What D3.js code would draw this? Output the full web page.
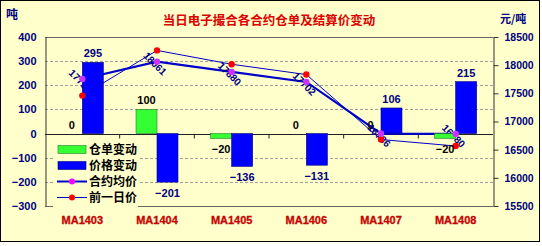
<!DOCTYPE html>
<html>
<head>
<meta charset="utf-8">
<script src="https://cdn.jsdelivr.net/npm/d3@7"></script>
<style>
  body { margin: 0; background: #fff; }
  text { font-family: "Liberation Sans", Arial, sans-serif; font-weight: bold; }
  .cjk { font-family: "Noto Sans CJK SC", sans-serif; font-weight: bold; }
</style>
</head>
<body>
<div id="chart"></div>
<script>
// data
var contracts = ["MA1403", "MA1404", "MA1405", "MA1406", "MA1407", "MA1408"];
var warrantChange = [0, 100, -20, 0, 0, -20];          // 仓单变动 (吨)
var priceChange = [295, -201, -136, -131, 106, 215];    // 价格变动
var avgPrice = [17755, 18061, 17880, 17702, 16786, 16780];  // 合约均价
var prevPrice = [17460, 18262, 18016, 17833, 16680, 16565]; // 前一日价
var leftTicks = [400, 300, 200, 100, 0, -100, -200, -300];
var rightTicks = [18500, 18000, 17500, 17000, 16500, 16000, 15500];

var svgWidth = 542, svgHeight = 246;
var plot = { left: 45, right: 493, top: 37, bottom: 206 };
var bg = "#FFFFCC";

var svg = d3.select("#chart").append("svg")
  .attr("width", svgWidth)
  .attr("height", svgHeight);

// outer frame
svg.append("rect")
  .attr("x", 0.5).attr("y", 0.5)
  .attr("width", 539).attr("height", 241)
  .attr("fill", bg)
  .attr("stroke", "#000");

var x0 = d3.scaleBand().domain(contracts).range([plot.left, plot.right]).padding(0);
var x1 = d3.scaleBand().domain(["warrant", "price"])
  .range([x0.bandwidth() * 0.219, x0.bandwidth() * 0.781]);
var yL = d3.scaleLinear().domain([-300, 400]).range([plot.bottom, plot.top]);
var yR = d3.scaleLinear().domain([15500, 18500]).range([plot.bottom, plot.top]);

// gridlines
svg.append("g").selectAll("line")
  .data(leftTicks.filter(d => d !== 0 && d !== 400 && d !== -300))
  .enter().append("line")
  .attr("x1", plot.left).attr("x2", plot.right)
  .attr("y1", d => Math.round(yL(d)) + 0.5).attr("y2", d => Math.round(yL(d)) + 0.5)
  .attr("stroke", "#A0A0A0")
  .attr("stroke-dasharray", "3,2");

// plot border (top, bottom)
svg.append("line").attr("x1", plot.left).attr("x2", plot.right)
  .attr("y1", plot.top + 0.5).attr("y2", plot.top + 0.5).attr("stroke", "#666");
svg.append("line").attr("x1", plot.left).attr("x2", plot.right)
  .attr("y1", plot.bottom + 0.5).attr("y2", plot.bottom + 0.5).attr("stroke", "#666");

// left axis
var leftAxis = d3.axisLeft(yL).tickValues(leftTicks).tickSize(0).tickPadding(9)
  .tickFormat(d => d < 0 ? "\u2212" + Math.abs(d) : d);
var gL = svg.append("g").attr("transform", `translate(${plot.left + 0.5},0)`).call(leftAxis);
gL.select(".domain").attr("stroke", "#333");
gL.selectAll("text").attr("fill", "#000080").attr("font-size", 11)
  .style("font-family", "'Liberation Sans', Arial, sans-serif");

// right axis
var rightAxis = d3.axisRight(yR).tickValues(rightTicks).tickSize(5).tickPadding(6)
  .tickSizeOuter(0).tickFormat(d3.format("d"));
var gR = svg.append("g").attr("transform", `translate(${plot.right + 0.5},0)`).call(rightAxis);
gR.select(".domain").attr("stroke", "#333");
gR.selectAll("line").attr("stroke", "#333");
gR.selectAll("text").attr("fill", "#000080").attr("font-size", 10.5)
  .style("font-family", "'Liberation Sans', Arial, sans-serif");

// zero (category) axis
var zeroY = Math.round(yL(0)) + 0.5;
svg.append("line").attr("x1", plot.left).attr("x2", plot.right)
  .attr("y1", zeroY).attr("y2", zeroY).attr("stroke", "#222");
svg.append("g").selectAll("line")
  .data(contracts.slice(1))
  .enter().append("line")
  .attr("x1", d => x0(d)).attr("x2", d => x0(d))
  .attr("y1", zeroY).attr("y2", zeroY + 4)
  .attr("stroke", "#222");

// category labels
svg.append("g").selectAll("text")
  .data(contracts)
  .enter().append("text")
  .attr("x", d => x0(d) + x0.bandwidth() / 2)
  .attr("y", 224)
  .attr("text-anchor", "middle")
  .attr("font-size", 11)
  .attr("fill", "#E00000")
  .attr("stroke", "#900")
  .attr("stroke-width", 0.3)
  .text(d => d);

// lines (under the bars)
var lineGen = d3.line()
  .x((d, i) => x0(contracts[i]) + x0.bandwidth() / 2)
  .y(d => yR(d));

svg.append("path").datum(prevPrice)
  .attr("d", lineGen)
  .attr("fill", "none").attr("stroke", "#0000CC").attr("stroke-width", 1);
svg.append("path").datum(avgPrice)
  .attr("d", lineGen)
  .attr("fill", "none").attr("stroke", "#0000CC").attr("stroke-width", 2.2);

// rotated value labels of 合约均价
svg.append("g").selectAll("text")
  .data(avgPrice)
  .enter().append("text")
  .attr("transform", (d, i) =>
    `translate(${x0(contracts[i]) + x0.bandwidth() / 2 - 2},${yR(d) + 2}) rotate(45)`)
  .attr("text-anchor", "middle")
  .attr("dy", "0.35em")
  .attr("font-size", 10)
  .attr("fill", "#000080")
  .text(d => d);

// bars
var bars = svg.append("g");
bars.selectAll(".warrant")
  .data(warrantChange)
  .enter().append("rect")
  .attr("x", (d, i) => x0(contracts[i]) + x1("warrant"))
  .attr("y", d => yL(Math.max(0, d)))
  .attr("width", x1.bandwidth())
  .attr("height", d => Math.abs(yL(d) - yL(0)))
  .attr("fill", "#33FF33")
  .attr("stroke", d => d === 0 ? "none" : "#2a7a2a")
  .attr("stroke-width", 0.6);
bars.selectAll(".price")
  .data(priceChange)
  .enter().append("rect")
  .attr("x", (d, i) => x0(contracts[i]) + x1("price"))
  .attr("y", d => yL(Math.max(0, d)))
  .attr("width", x1.bandwidth())
  .attr("height", d => Math.abs(yL(d) - yL(0)))
  .attr("fill", "#0000FF")
  .attr("stroke", "#000080")
  .attr("stroke-width", 0.6);

// markers
svg.append("g").selectAll("circle")
  .data(prevPrice)
  .enter().append("circle")
  .attr("cx", (d, i) => x0(contracts[i]) + x0.bandwidth() / 2)
  .attr("cy", d => yR(d))
  .attr("r", 3.2)
  .attr("fill", "#FF0000");
svg.append("g").selectAll("circle")
  .data(avgPrice)
  .enter().append("circle")
  .attr("cx", (d, i) => x0(contracts[i]) + x0.bandwidth() / 2)
  .attr("cy", d => yR(d))
  .attr("r", 3.2)
  .attr("fill", "#CC33FF");

// bar value labels
function barLabel(values, key, color) {
  svg.append("g").selectAll("text")
    .data(values)
    .enter().append("text")
    .attr("x", (d, i) => x0(contracts[i]) + x1(key) + x1.bandwidth() / 2)
    .attr("y", d => d >= 0 ? yL(d) - 5 : yL(d) + 15)
    .attr("text-anchor", "middle")
    .attr("font-size", 11)
    .attr("fill", color)
    .text(d => d < 0 ? "\u2212" + Math.abs(d) : d);
}
barLabel(warrantChange, "warrant", "#000");
barLabel(priceChange, "price", "#000080");

// legend
var legend = svg.append("g");
legend.append("rect")
  .attr("x", 53).attr("y", 140).attr("width", 85).attr("height", 67)
  .attr("fill", bg);
var legendItems = [
  { name: "仓单变动", type: "bar", color: "#33FF33", stroke: "#2a7a2a" },
  { name: "价格变动", type: "bar", color: "#0000FF", stroke: "#000080" },
  { name: "合约均价", type: "line", color: "#FF00FF", width: 2 },
  { name: "前一日价", type: "line", color: "#FF0000", width: 1 }
];
legendItems.forEach(function(item, i) {
  var cy = 149.5 + i * 16;
  if (item.type === "bar") {
    legend.append("rect")
      .attr("x", 58).attr("y", cy - 4).attr("width", 28).attr("height", 8)
      .attr("fill", item.color).attr("stroke", item.stroke).attr("stroke-width", 0.6);
  } else {
    legend.append("line")
      .attr("x1", 57).attr("x2", 87).attr("y1", cy).attr("y2", cy)
      .attr("stroke", "#0000CC").attr("stroke-width", item.width);
    legend.append("circle")
      .attr("cx", 72).attr("cy", cy).attr("r", 3)
      .attr("fill", item.color);
  }
  legend.append("text")
    .attr("class", "cjk")
    .attr("x", 89).attr("y", cy)
    .attr("dy", "0.36em")
    .attr("font-size", 12)
    .attr("fill", "#000")
    .text(item.name);
});

// title and units
svg.append("text")
  .attr("class", "cjk")
  .attr("x", 269).attr("y", 20)
  .attr("dy", "0.36em")
  .attr("text-anchor", "middle")
  .attr("font-size", 12.5)
  .attr("fill", "#DD0000")
  .text("当日电子撮合各合约仓单及结算价变动");
svg.append("text")
  .attr("class", "cjk")
  .attr("x", 6).attr("y", 15)
  .attr("dy", "0.36em")
  .attr("font-size", 12)
  .attr("fill", "#000080")
  .text("吨");
svg.append("text")
  .attr("class", "cjk")
  .attr("x", 500).attr("y", 19)
  .attr("dy", "0.36em")
  .attr("font-size", 11)
  .attr("fill", "#000080")
  .text("元/吨");
</script>
</body>
</html>
